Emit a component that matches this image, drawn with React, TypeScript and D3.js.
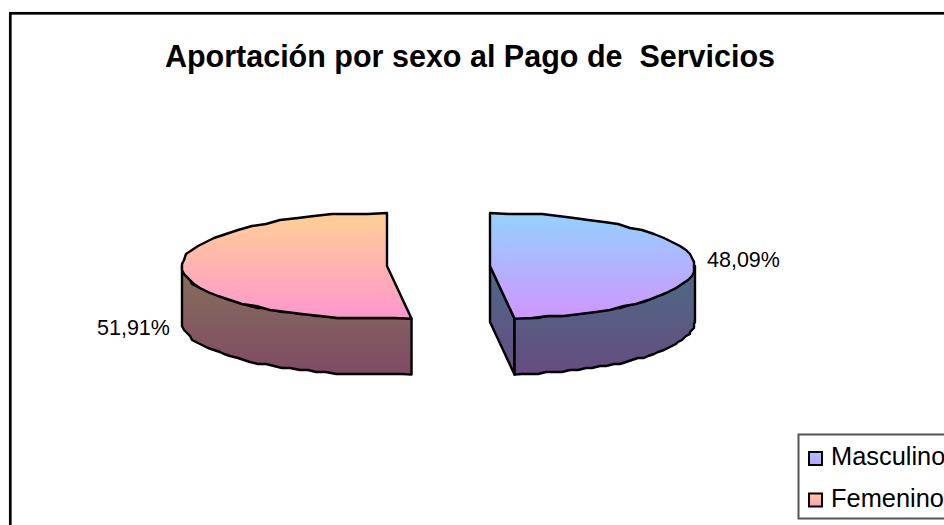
import React from "react";
import * as d3 from "d3";

const categories = ["Masculino", "Femenino"];
const shares = [48.09, 51.91];
const shareLabels = ["48,09%", "51,91%"];
const title = "Aportación por sexo al Pago de  Servicios";
const topStops = [["#99CCFF", "#CC99FF"], ["#FFCC99", "#FF99CC"]];
const wallStops = [["#4C6A85", "#664C80"], ["#85705A", "#804A66"]];

const W = 944, H = 525;
const rx = 205, ry = 53, depth = 56;
const centers = [490, 387];
const cy = 266;
const grid = 2;

const pieGen = d3.pie<number>().sort(null).value((d) => d);
const arcs = pieGen(shares);

function pt(cx: number, a: number, dy = 0): [number, number] {
  return [cx + rx * Math.sin(a), cy + dy - ry * Math.cos(a)];
}
const line = d3.line();
// the rim is stepped to a coarse grid, like the low-resolution outline of the original
function sweep(cx: number, a0: number, a1: number, dy = 0): [number, number][] {
  const n = 36;
  return d3.range(0, n + 1).map((i) => {
    const [x, y] = pt(cx, d3.interpolateNumber(a0, a1)(i / n), dy);
    if (i === 0 || i === n) return [x, y] as [number, number];
    return [Math.round(x / grid) * grid, Math.round(y / grid) * grid] as [number, number];
  });
}
function topPath(i: number) {
  const c = centers[i];
  return line([[c, cy], ...sweep(c, arcs[i].startAngle, arcs[i].endAngle)])! + "Z";
}
// outer wall: the part of the rim that faces the viewer (90° to 270°)
function wallPath(i: number) {
  const c = centers[i];
  const a0 = Math.max(arcs[i].startAngle, Math.PI / 2);
  const a1 = Math.min(arcs[i].endAngle, (3 * Math.PI) / 2);
  return line([...sweep(c, a0, a1), ...sweep(c, a1, a0, depth)])! + "Z";
}
// cut face of the right slice, visible through the gap
function cutPath(i: number) {
  const c = centers[i];
  const e = arcs[i].endAngle;
  return line([[c, cy], pt(c, e), pt(c, e, depth), [c, cy + depth]])! + "Z";
}

const font = "'Liberation Sans', Arial, sans-serif";

export default function App() {
  return (
    <svg width={W} height={H} viewBox={`0 0 ${W} ${H}`} style={{ position: "absolute", left: 0, top: 0, display: "block", background: "#fff" }}>
      <defs>
        {categories.map((c, i) => (
          <React.Fragment key={c}>
            <linearGradient id={`top${i}`} gradientUnits="userSpaceOnUse" x1="0" x2="0" y1={cy - ry + 8} y2={cy + ry - 6}>
              <stop offset="0" stopColor={topStops[i][0]} />
              <stop offset="1" stopColor={topStops[i][1]} />
            </linearGradient>
            <linearGradient id={`wall${i}`} gradientUnits="userSpaceOnUse" x1="0" x2="0" y1={cy} y2={cy + ry + depth}>
              <stop offset="0" stopColor={wallStops[i][0]} />
              <stop offset="1" stopColor={wallStops[i][1]} />
            </linearGradient>
            <linearGradient id={`key${i}`} x1="0" x2="0" y1="0" y2="1">
              <stop offset="0" stopColor={topStops[i][0]} />
              <stop offset="1" stopColor={topStops[i][1]} />
            </linearGradient>
          </React.Fragment>
        ))}
      </defs>
      <rect x={10.3} y={13.3} width={W + 20} height={H + 20} fill="#fff" stroke="#000" strokeWidth={2.7} />
      <text x={470} y={67} textAnchor="middle" fontFamily={font} fontWeight="bold" fontSize={30.5} fill="#000" style={{ whiteSpace: "pre" }}>{title}</text>

      {categories.map((c, i) => (
        <g key={c} stroke="#000" strokeWidth={2.4} strokeLinejoin="round">
          {i === 0 && <path d={cutPath(i)} fill={`url(#wall${i})`} />}
          <path d={wallPath(i)} fill={`url(#wall${i})`} />
          <path d={topPath(i)} fill={`url(#top${i})`} />
        </g>
      ))}

      <text x={707} y={267} fontFamily={font} fontSize={21.5} fill="#000">{shareLabels[0]}</text>
      <text x={97} y={335} fontFamily={font} fontSize={21.5} fill="#000">{shareLabels[1]}</text>

      <rect x={798.5} y={434.5} width={200} height={84} fill="#fff" stroke="#555" strokeWidth={2} />
      {categories.map((c, i) => (
        <g key={c}>
          <rect x={809} y={452 + i * 41.5} width={13} height={13} fill={`url(#key${i})`} stroke="#000" strokeWidth={2} />
          <text x={831} y={465 + i * 41.5} fontFamily={font} fontSize={25.4} fill="#000">{c}</text>
        </g>
      ))}
    </svg>
  );
}
